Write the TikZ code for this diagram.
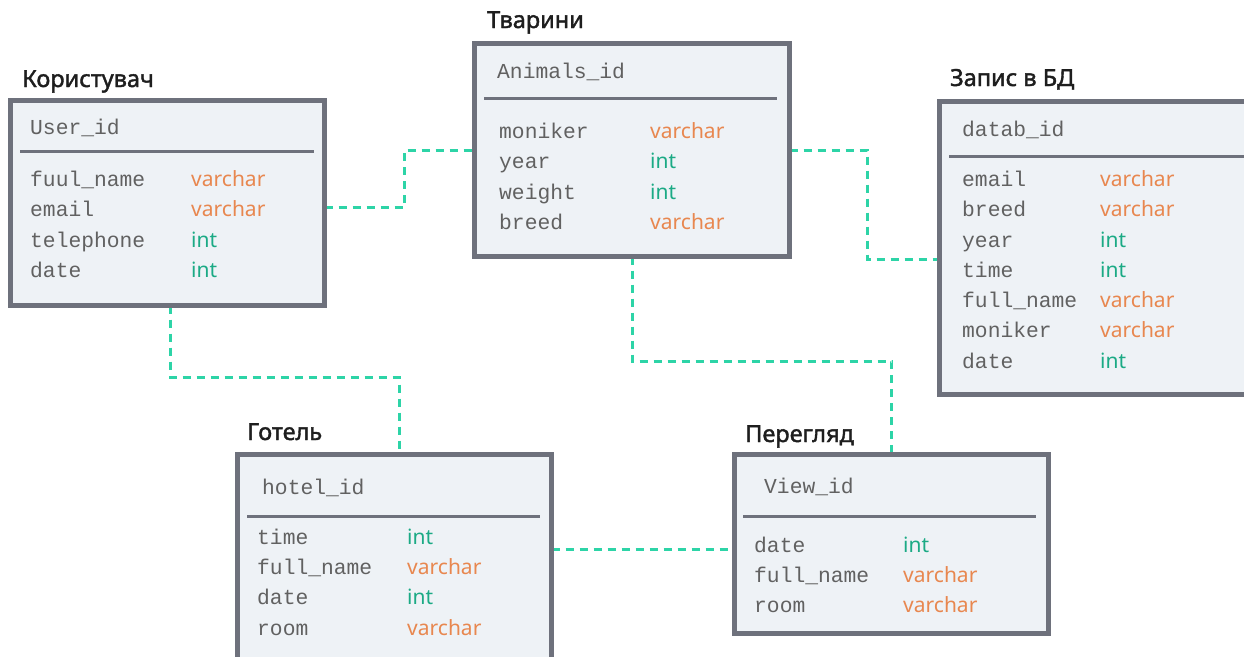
\documentclass[tikz,border=0pt]{standalone}
\usepackage{fontspec}
\setmainfont{Noto Sans}
\newfontfamily\monof{Liberation Mono}
\newfontfamily\ttlfont[FakeBold=1.6]{Noto Sans}
\definecolor{boxfill}{HTML}{EEF2F6}
\definecolor{boxline}{HTML}{6E717C}
\definecolor{conncol}{HTML}{2DD4A7}
\definecolor{vc}{HTML}{E8874F}
\definecolor{ic}{HTML}{1BAA85}
\definecolor{fc}{HTML}{616161}
\definecolor{tc}{HTML}{1E1E1E}
\pgfdeclarelayer{bg}
\pgfsetlayers{bg,main}
\begin{document}
\begin{tikzpicture}[x=1pt,y=-1pt,
  tbl/.style={draw=boxline, line width=5pt, fill=boxfill, anchor=north west, inner sep=0pt, outer sep=0pt},
  sepline/.style={draw=boxline, line width=3pt},
  conn/.style={draw=conncol, line width=3pt, dash pattern=on 8pt off 6pt},
  ttl/.style={anchor=base west, inner sep=0pt, font=\ttlfont\fontsize{23.5}{27}\selectfont, text=tc},
  fld/.style={anchor=base west, inner sep=0pt, font=\monof\fontsize{21.3}{24}\selectfont, text=fc},
  typ/.style={anchor=base west, inner sep=0pt, font=\fontsize{21}{24}\selectfont}]
\useasboundingbox (0,0) rectangle (1244,656);

% table frames
\node[tbl, minimum width=314pt, minimum height=205pt] (user) at (10.5,100.5) {};
\node[tbl, minimum width=315pt, minimum height=213pt] (animals) at (474.5,43.5) {};
\node[tbl, minimum width=330pt, minimum height=293pt] (datab) at (939.5,101.5) {};
\node[tbl, minimum width=314pt, minimum height=220pt] (hotel) at (237.5,454.5) {};
\node[tbl, minimum width=314pt, minimum height=179pt] (view) at (734.5,454.5) {};

% connector bend points
\coordinate (c1) at (404,207);
\coordinate (c2) at (867,259);
\coordinate (c3) at (399,377);
\coordinate (c4) at (890,361);
\coordinate (c5) at (640,549);

% connectors and white page, behind the frames
\begin{pgfonlayer}{bg}
\fill[white] (0,0) rectangle (1244,656);
\draw[conn] (user.east |- c1) -- (c1) |- (animals.west);
\draw[conn] (animals.east) -| (c2) -- (datab.west |- c2);
\draw[conn] ([xshift=2.5pt]user.south) -- ([xshift=2.5pt]user.south |- c3) -| ([xshift=4.5pt]hotel.north);
\draw[conn] (animals.south) -- (animals.south |- c4) -| (view.north);
\draw[conn] (hotel.east |- c5) -- (view.west |- c5);
\end{pgfonlayer}

% titles
\node[ttl] (tuser) at (22,87) {Користувач};
\node[ttl] (tanimals) at (487,28) {Тварини};
\node[ttl] (tdatab) at (950,86) {Запис в БД};
\node[ttl] (thotel) at (247,440) {Готель};
\node[ttl] (tview) at (745,442) {Перегляд};

% separators
\draw[sepline] (20,151) -- (314,151);
\draw[sepline] (484,98) -- (777,98);
\draw[sepline] (949,156) -- (1250,156);
\draw[sepline] (247,516) -- (540,516);
\draw[sepline] (743,516) -- (1036,516);

% headers
\node[fld] (huser) at (30,134) {User\_id};
\node[fld] (hanimals) at (497,78) {Animals\_id};
\node[fld] (hdatab) at (962,136) {datab\_id};
\node[fld] (hhotel) at (262,494) {hotel\_id};
\node[fld] (hview) at (764,493) {View\_id};

% fields
\foreach \f/\t/\c/\y [count=\i] in {fuul\_name/varchar/vc/186, email/varchar/vc/216, telephone/int/ic/247, date/int/ic/277}
  {\node[fld] (uf\i) at (30,\y) {\f}; \node[typ,text=\c] (ut\i) at (191,\y) {\t};}
\foreach \f/\t/\c/\y [count=\i] in {moniker/varchar/vc/138, year/int/ic/168, weight/int/ic/199, breed/varchar/vc/229}
  {\node[fld] (af\i) at (499,\y) {\f}; \node[typ,text=\c] (at\i) at (650,\y) {\t};}
\foreach \f/\t/\c/\y [count=\i] in {email/varchar/vc/186, breed/varchar/vc/216, year/int/ic/247, time/int/ic/277, full\_name/varchar/vc/307, moniker/varchar/vc/337, date/int/ic/368}
  {\node[fld] (df\i) at (962,\y) {\f}; \node[typ,text=\c] (dt\i) at (1100,\y) {\t};}
\foreach \f/\t/\c/\y [count=\i] in {time/int/ic/544, full\_name/varchar/vc/574, date/int/ic/604, room/varchar/vc/635}
  {\node[fld] (hf\i) at (257,\y) {\f}; \node[typ,text=\c] (ht\i) at (407,\y) {\t};}
\foreach \f/\t/\c/\y [count=\i] in {date/int/ic/552, full\_name/varchar/vc/582, room/varchar/vc/612}
  {\node[fld] (vf\i) at (754,\y) {\f}; \node[typ,text=\c] (vt\i) at (903,\y) {\t};}
\end{tikzpicture}
\end{document}
